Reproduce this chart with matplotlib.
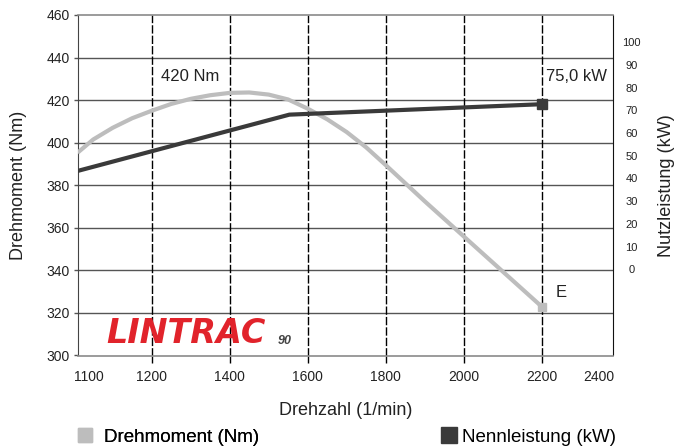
import matplotlib
matplotlib.use("Agg")
import matplotlib.pyplot as plt
from matplotlib.lines import Line2D

plt.rcParams['font.family'] = ['Liberation Sans', 'DejaVu Sans']

# ---- data ----
rpm_torque = [1010, 1050, 1100, 1150, 1200, 1250, 1300, 1350, 1400, 1450, 1500,
              1550, 1600, 1650, 1700, 1750, 1800, 1850, 1900, 2000, 2100, 2200]
torque_nm = [395.3, 401.5, 407.0, 411.5, 415.0, 418.2, 420.6, 422.3, 423.4, 423.6, 422.6,
             420.3, 416.0, 411.0, 405.0, 397.8, 389.5, 381.0, 372.5, 356.0, 339.5, 323.0]

rpm_power = [1010, 1553, 2200]
power_kw = [43.3, 68.1, 72.7]

x_grid = [1200, 1400, 1600, 1800, 2000, 2200]
x_grid_labels = ["1200", "1400", "1600", "1800", "2000", "2200"]
x_edge_labels = ["1100", "2400"]
x_edge_pos = [1039, 2347]
y_left_ticks = [300, 320, 340, 360, 380, 400, 420, 440, 460]
y_right_ticks = [0, 10, 20, 30, 40, 50, 60, 70, 80, 90, 100]

torque_color = "#bdbdbd"
power_color = "#3a3a3a"

fig = plt.figure(figsize=(6.76, 4.46), dpi=100)
ax = fig.add_axes([78/676, 1 - 355.5/446, (613-78)/676, (355.5-15)/446])

ax.set_xlim(1011, 2383)
ax.set_ylim(300, 460)

# horizontal grid lines
for yv in y_left_ticks[1:-1]:
    ax.axhline(yv, color="#555555", lw=1.0, zorder=1)
# vertical dashed grid
for xv in x_grid:
    ax.axvline(xv, color="black", lw=1.0, ls=(0, (6, 1.5)), zorder=1)

ax.set_yticks(y_left_ticks)
ax.set_yticklabels([str(v) for v in y_left_ticks])
ax.tick_params(axis='y', which='major', direction='out', length=3, width=1,
               color="#555555", labelsize=10, labelcolor="#222222", pad=3,
               right=True)
ax.set_xticks(x_grid)
ax.set_xticklabels(x_grid_labels)
ax.tick_params(axis='x', which='major', direction='out', length=5, width=1, color="black",
               labelsize=10, labelcolor="#222222", pad=5.2)
ax.set_xticks(x_edge_pos, minor=True)
ax.set_xticklabels(x_edge_labels, minor=True)
ax.tick_params(axis='x', which='minor', length=0, labelsize=10, labelcolor="#222222", pad=10.2)

for s in ['top', 'bottom']:
    ax.spines[s].set_color("#8a8a8a")
    ax.spines[s].set_linewidth(1.2)
ax.spines['left'].set_color("#444444")
ax.spines['right'].set_color("#111111")

ax.plot(rpm_torque, torque_nm, color=torque_color, lw=3, solid_capstyle='butt', zorder=3)
ax.plot(rpm_torque[-1], torque_nm[-1], marker='s', ms=6, color=torque_color, zorder=3)

ax2 = ax.twinx()
ax2.set_ylim(-38, 112)
ax2.set_yticks(y_right_ticks)
ax2.set_yticklabels([str(v) for v in y_right_ticks], ha='center')
ax2.tick_params(axis='y', length=0, labelsize=8, labelcolor="#222222", pad=13.5)
for s in ax2.spines.values():
    s.set_visible(False)
ax2.plot(rpm_power, power_kw, color=power_color, lw=3, zorder=4)
ax2.plot(rpm_power[-1], power_kw[-1], marker='s', ms=7, color=power_color, zorder=4)

ax.set_ylabel("Drehmoment (Nm)", fontsize=13, color="#222222", labelpad=14)
ax2.set_ylabel("Nutzleistung (kW)", fontsize=13, color="#222222", labelpad=12)
ax.set_xlabel("Drehzahl (1/min)", fontsize=13, color="#222222", labelpad=13)

ax.text(1298, 431, "420 Nm", fontsize=12, color="#222222", ha='center', va='center')
ax.text(2290, 431, "75,0 kW", fontsize=12, color="#222222", ha='center', va='center')
ax.text(2251, 329.5, "E", fontsize=12, color="#222222", ha='center', va='center')

# logo
ax.text(1084, 310.5, "LINTRAC", fontsize=24, fontweight='heavy', style='italic',
        color="#e1232b", ha='left', va='center', family='DejaVu Sans')
ax.text(1522, 307, "90", fontsize=9, fontweight='bold', style='italic',
        color="#444444", ha='left', va='center')

# legends
h1 = Line2D([], [], marker='s', ls='none', ms=10, color=torque_color)
h2 = Line2D([], [], marker='s', ls='none', ms=11, color=power_color)
leg1 = fig.legend([h1], ["Drehmoment (Nm)"], loc='center left', bbox_to_anchor=(67/676, 1-437/446),
                  frameon=False, fontsize=13.5, handletextpad=0.55, borderpad=0, handlelength=0.9)
fig.legend([h2], ["Nennleistung (kW)"], loc='center right', bbox_to_anchor=(625/676, 1-437/446),
           frameon=False, fontsize=13.5, handletextpad=0.15, borderpad=0, handlelength=1.0)
fig.add_artist(leg1)

fig.savefig("out.png", dpi=100)
